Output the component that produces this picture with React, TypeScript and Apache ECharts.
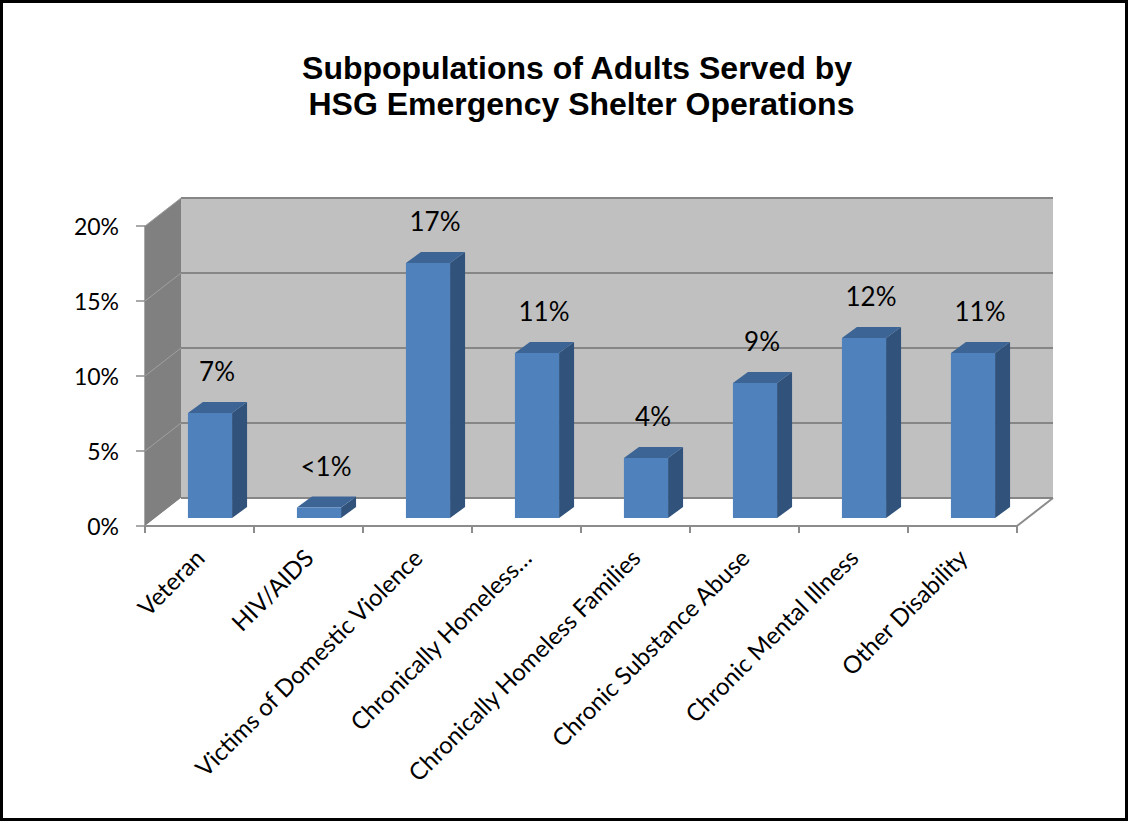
import React, { useEffect, useRef } from "react";
import * as echarts from "echarts";

const categories = [
  "Veteran",
  "HIV/AIDS",
  "Victims of Domestic Violence",
  "Chronically Homeless…",
  "Chronically Homeless Families",
  "Chronic Substance Abuse",
  "Chronic Mental Illness",
  "Other Disability",
];
const values = [7, 0.7, 17, 11, 4, 9, 12, 11];
const yTicks = [0, 5, 10, 15, 20];
const titleText = "Subpopulations of Adults Served by\n HSG Emergency Shelter Operations";

// 3D projection styling (pixel offsets)
const WALL_DX = 36;
const WALL_DY = -28;
const PLANE_DX = 10.5;
const PLANE_DY = -8;
const BAR_DX = 15;
const BAR_DY = -11;

export default function App() {
  const ref = useRef<HTMLDivElement>(null);
  useEffect(() => {
    if (!ref.current) return;
    const chart = echarts.init(ref.current, undefined, { renderer: "svg" });
    const labelFont = "Lato, 'Noto Sans', sans-serif";
    chart.setOption({
      animation: false,
      backgroundColor: "#ffffff",
      title: {
        text: titleText,
        left: 572,
        textAlign: "center",
        top: 45,
        textStyle: {
          fontFamily: "'Liberation Sans', Arial, sans-serif",
          fontWeight: "bold",
          fontSize: 32,
          lineHeight: 36,
          color: "#000",
        },
      },
      graphic: [
        {
          type: "rect",
          shape: { x: 1.5, y: 1.5, width: 1125, height: 818 },
          style: { fill: "none", stroke: "#000", lineWidth: 3 },
          z: 100,
        },
      ],
      grid: { left: 145, top: 226, width: 872, height: 300 },
      xAxis: {
        type: "category",
        data: categories,
        boundaryGap: true,
        axisLine: { show: true, lineStyle: { color: "#8c8c8c", width: 2 } },
        axisTick: { show: true, interval: 0, length: 7, lineStyle: { color: "#8c8c8c", width: 2 } },
        axisLabel: {
          interval: 0,
          rotate: 45,
          margin: 27,
          fontFamily: labelFont,
          fontSize: 24,
          color: "#000",
        },
        z: 10,
      },
      yAxis: {
        type: "value",
        min: 0,
        max: 20,
        interval: 5,
        axisLine: { show: true, lineStyle: { color: "#8c8c8c", width: 1.5 } },
        axisTick: { show: true, length: 9, lineStyle: { color: "#8c8c8c", width: 1.5 } },
        splitLine: { show: false },
        axisLabel: {
          formatter: "{value}%",
          margin: 26,
          fontFamily: labelFont,
          fontSize: 23,
          color: "#000",
        },
      },
      series: [
        {
          type: "custom",
          name: "walls",
          data: [[0, 0]],
          silent: true,
          z: 1,
          renderItem: (params: any, api: any) => {
            const cs = params.coordSys;
            const x0 = cs.x;
            const x1 = cs.x + cs.width;
            const yBottom = api.coord([0, 0])[1];
            const yTop = api.coord([0, 20])[1];
            const children: any[] = [];
            children.push({
              type: "polygon",
              shape: {
                points: [
                  [x0 + WALL_DX, yTop + WALL_DY],
                  [x1 + WALL_DX, yTop + WALL_DY],
                  [x1 + WALL_DX, yBottom + WALL_DY],
                  [x0 + WALL_DX, yBottom + WALL_DY],
                ],
              },
              style: { fill: "#c0c0c0" },
            });
            children.push({
              type: "polygon",
              shape: {
                points: [
                  [x0, yTop],
                  [x0 + WALL_DX, yTop + WALL_DY],
                  [x0 + WALL_DX, yBottom + WALL_DY],
                  [x0, yBottom],
                ],
              },
              style: { fill: "#808080" },
            });
            children.push({
              type: "polygon",
              shape: {
                points: [
                  [x0, yBottom],
                  [x0 + WALL_DX, yBottom + WALL_DY],
                  [x1 + WALL_DX, yBottom + WALL_DY],
                  [x1, yBottom],
                ],
              },
              style: { fill: "#ffffff" },
            });
            children.push({
              type: "line",
              shape: { x1: x1, y1: yBottom, x2: x1 + WALL_DX, y2: yBottom + WALL_DY },
              style: { stroke: "#8c8c8c", lineWidth: 2 },
            });
            yTicks.forEach((t) => {
              const y = api.coord([0, t])[1];
              children.push({
                type: "line",
                shape: { x1: x0 + WALL_DX, y1: y + WALL_DY, x2: x1 + WALL_DX, y2: y + WALL_DY },
                style: { stroke: "#868686", lineWidth: 2 },
              });
              if (t > 0) {
                children.push({
                  type: "line",
                  shape: { x1: x0, y1: y, x2: x0 + WALL_DX, y2: y + WALL_DY },
                  style: { stroke: "#a0a0a0", lineWidth: 1 },
                });
              }
            });
            return { type: "group", children };
          },
        },
        {
          type: "custom",
          name: "bars",
          data: values.map((v, i) => [i, v]),
          z: 5,
          renderItem: (params: any, api: any) => {
            const idx = api.value(0);
            const v = api.value(1);
            const top = api.coord([idx, v]);
            const base = api.coord([idx, 0]);
            const bw = api.size([1, 0])[0] * 0.405;
            const cx = top[0] + PLANE_DX;
            const xl = cx - bw / 2;
            const xr = cx + bw / 2;
            const yt = top[1] + PLANE_DY;
            const yb = base[1] + PLANE_DY;
            const label = v < 1 ? "<1%" : Math.round(v) + "%";
            return {
              type: "group",
              children: [
                {
                  type: "polygon",
                  shape: {
                    points: [
                      [xr, yt],
                      [xr + BAR_DX, yt + BAR_DY],
                      [xr + BAR_DX, yb + BAR_DY],
                      [xr, yb],
                    ],
                  },
                  style: { fill: "#31527b" },
                },
                {
                  type: "polygon",
                  shape: {
                    points: [
                      [xl, yt],
                      [xl + BAR_DX, yt + BAR_DY],
                      [xr + BAR_DX, yt + BAR_DY],
                      [xr, yt],
                    ],
                  },
                  style: { fill: "#3c6595" },
                },
                {
                  type: "rect",
                  shape: { x: xl, y: yt, width: bw, height: yb - yt },
                  style: { fill: "#4f81bd" },
                },
                {
                  type: "text",
                  x: cx + 7,
                  y: yt - 42,
                  style: {
                    text: label,
                    textAlign: "center",
                    textVerticalAlign: "middle",
                    fontFamily: labelFont,
                    fontSize: 26,
                    fill: "#000",
                  },
                },
              ],
            };
          },
        },
      ],
    });
    return () => chart.dispose();
  }, []);
  return (
    <div
      ref={ref}
      style={{ position: "absolute", left: 0, top: 0, width: 1129, height: 823, background: "#fff" }}
    />
  );
}
